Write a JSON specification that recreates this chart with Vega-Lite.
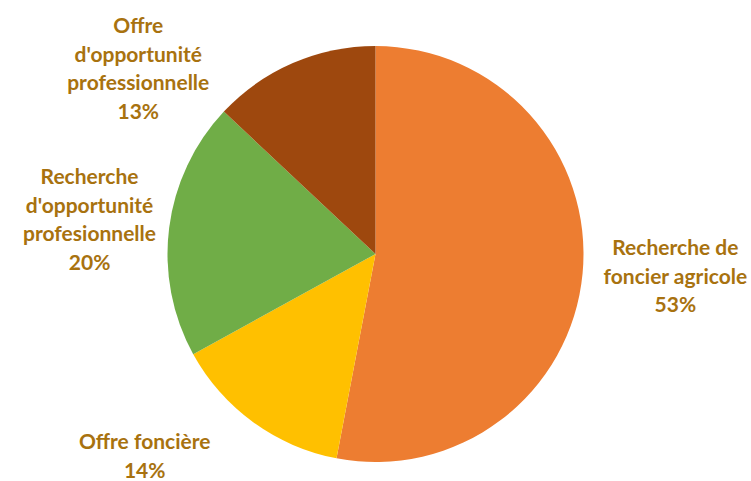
{
  "$schema": "https://vega.github.io/schema/vega-lite/v6.json",
  "autosize": {"type": "fit", "contains": "padding"},
  "width": 751,
  "height": 481,
  "padding": {"top": 27, "left": 0, "right": 0, "bottom": 0},
  "background": "white",
  "view": {"stroke": null},
  "data": {
    "values": [
      {"order": 1, "categorie": "Recherche de foncier agricole", "label": "Recherche de\nfoncier agricole\n53%", "part": 53},
      {"order": 2, "categorie": "Offre foncière", "label": "Offre foncière\n14%", "part": 14},
      {"order": 3, "categorie": "Recherche d'opportunité profesionnelle", "label": "Recherche\nd'opportunité\nprofesionnelle\n20%", "part": 20},
      {"order": 4, "categorie": "Offre d'opportunité professionnelle", "label": "Offre\nd'opportunité\nprofessionnelle\n13%", "part": 13}
    ]
  },
  "encoding": {
    "theta": {"field": "part", "type": "quantitative", "stack": true},
    "order": {"field": "order", "type": "quantitative"}
  },
  "layer": [
    {
      "mark": {"type": "arc", "outerRadius": 208},
      "encoding": {
        "color": {
          "field": "categorie",
          "type": "nominal",
          "scale": {
            "domain": ["Recherche de foncier agricole", "Offre foncière", "Recherche d'opportunité profesionnelle", "Offre d'opportunité professionnelle"],
            "range": ["#ED7D31", "#FFC000", "#70AD47", "#9E480E"]
          },
          "legend": null
        }
      }
    },
    {
      "mark": {
        "type": "text",
        "radius": 260,
        "dx": {"expr": "datum.order == 1 ? 41 : datum.order == 2 ? -78 : datum.order == 3 ? -28 : -134"},
        "dy": {"expr": "datum.order == 1 ? -29 : datum.order == 2 ? -21 : datum.order == 3 ? -43 : 12"},
        "font": "Lato", "fontWeight": "bold", "fontSize": 21, "lineHeight": 28.5,
        "color": "#A8720F", "align": "center", "baseline": "middle", "lineBreak": "\n"
      },
      "encoding": {"text": {"field": "label"}}
    }
  ]
}
